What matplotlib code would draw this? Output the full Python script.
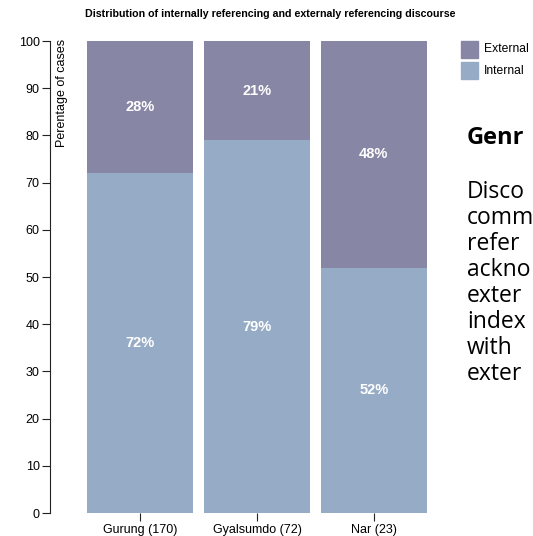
import matplotlib
matplotlib.use("Agg")
import matplotlib.pyplot as plt
import numpy as np

# data
groups = ["Gurung (170)", "Gyalsumdo (72)", "Nar (23)"]
internal = [72, 79, 52]
external = [28, 21, 48]
series_names = ["External", "Internal"]
yticks = [0, 10, 20, 30, 40, 50, 60, 70, 80, 90, 100]

# slide text beside the chart, as far as it is visible
side_title = "Genr"
side_lines = ["Disco", "comm", "refer", "ackno", "exter", "index", "with", "exter"]

col_ext = "#8787a5"
col_int = "#96abc6"

plt.rcParams['font.family'] = ['Liberation Sans', 'DejaVu Sans']

W, H = 533, 536
fig = plt.figure(figsize=(W / 100, H / 100), dpi=100)

# axes: spine at x=50 px, y from 41 px (100) to 513 px (0)
ax = fig.add_axes([50 / W, (H - 513) / H, (430 - 50) / W, (513 - 41) / H])
x = np.arange(len(groups))
bw = 0.91
ax.bar(x, internal, width=bw, color=col_int, label="Internal")
ax.bar(x, external, width=bw, bottom=internal, color=col_ext, label="External")

for i in range(len(groups)):
    ax.text(x[i], internal[i] / 2, "%d%%" % internal[i], color="white",
            ha="center", va="center", fontsize=10.5, fontweight="bold")
    ax.text(x[i], internal[i] + external[i] / 2, "%d%%" % external[i], color="white",
            ha="center", va="center", fontsize=10.5, fontweight="bold")

ax.set_xlim(-0.77, 2.48)
ax.set_ylim(0, 100)
ax.set_yticks(yticks)
ax.set_xticks(x)
ax.set_xticklabels(groups)
ax.tick_params(axis='both', labelsize=9, length=6, width=0.8, color="#222222")
ax.tick_params(axis='x', pad=2)
ax.tick_params(axis='y', pad=1.5)
for s in ["top", "right", "bottom"]:
    ax.spines[s].set_visible(False)
ax.spines["left"].set_linewidth(0.8)
ax.spines["left"].set_color("#222222")

ax.text((62 - 50) / (430 - 50), 1.005, "Perentage of cases", transform=ax.transAxes,
        rotation=90, ha="center", va="top", fontsize=9)

fig.text(270 / W, 1 - 14 / H,
         "Distribution of internally referencing and externaly referencing discourse",
         ha="center", va="center", fontsize=7.7, fontweight="bold")

# legend boxes
for k, (name, c) in enumerate(zip(series_names, [col_ext, col_int])):
    y0 = 41 + k * 21
    fig.patches.append(plt.Rectangle((461 / W, 1 - (y0 + 17) / H), 17 / W, 17 / H,
                                     transform=fig.transFigure, color=c))
    fig.text(484 / W, 1 - (y0 + 8.5) / H, name, ha="left", va="center", fontsize=8.7)

# slide text on the right
fig.text(467 / W, 1 - 138 / H, side_title, ha="left", va="center", fontsize=17,
         fontweight="bold", family=["Open Sans", "DejaVu Sans"])
for j, line in enumerate(side_lines):
    fig.text(467 / W, 1 - (192 + j * 26) / H, line, ha="left", va="center",
             fontsize=16.5, family=["Open Sans", "DejaVu Sans"])

fig.savefig("out.png", dpi=100)
